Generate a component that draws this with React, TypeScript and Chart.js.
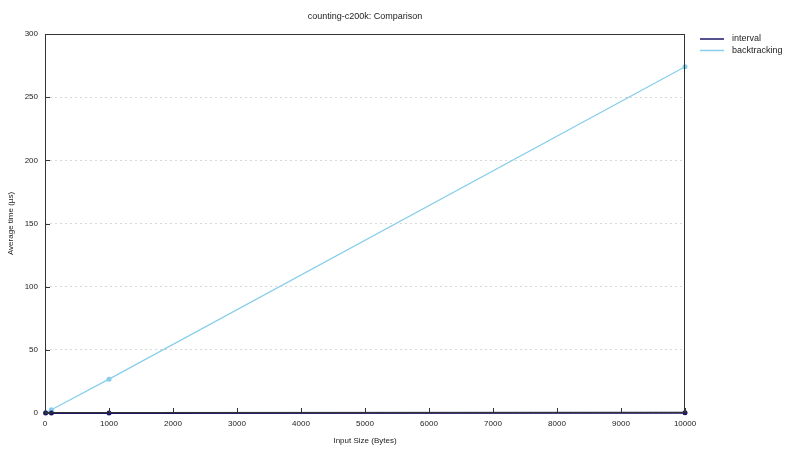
import React, { useEffect, useRef } from "react";
import { Chart, registerables } from "chart.js";
Chart.register(...registerables);

const TITLE = "counting-c200k: Comparison";
const inputSizes = [10, 100, 1000, 10000];
const intervalTimes = [0.02, 0.03, 0.08, 0.15];
const backtrackingTimes = [0.4, 2.6, 26.8, 274];
const seriesNames = ["interval", "backtracking"];
const seriesColors = ["#1c1767", "#87ceeb"];
const FONT = "'Liberation Sans', Arial, sans-serif";

const framePlugin = {
  id: "frame",
  afterDraw(chart: any) {
    const { ctx, chartArea: a, scales } = chart;
    ctx.save();
    ctx.strokeStyle = "#333";
    ctx.lineWidth = 1;
    ctx.strokeRect(a.left + 0.5, a.top + 0.5, a.right - a.left - 1, a.bottom - a.top - 1);
    ctx.beginPath();
    scales.x.ticks.forEach((t: any) => {
      const x = Math.round(scales.x.getPixelForValue(t.value)) + 0.5;
      ctx.moveTo(x, a.bottom);
      ctx.lineTo(x, a.bottom - 5);
    });
    scales.y.ticks.forEach((t: any) => {
      const y = Math.round(scales.y.getPixelForValue(t.value)) + 0.5;
      ctx.moveTo(a.left, y);
      ctx.lineTo(a.left + 5, y);
    });
    ctx.stroke();
    ctx.fillStyle = "#222";
    ctx.font = "9px " + FONT;
    ctx.textAlign = "center";
    ctx.textBaseline = "middle";
    ctx.fillText(TITLE, (a.left + a.right) / 2, 17);
    ctx.textAlign = "left";
    chart.data.datasets.forEach((d: any, i: number) => {
      const y = 39 + i * 11.5;
      ctx.strokeStyle = d.borderColor;
      ctx.lineWidth = 1.5;
      ctx.beginPath();
      ctx.moveTo(700, y);
      ctx.lineTo(724, y);
      ctx.stroke();
      ctx.fillStyle = "#222";
      ctx.fillText(d.label, 732, y);
    });
    ctx.restore();
  },
};

export default function App() {
  const ref = useRef<HTMLCanvasElement>(null);
  useEffect(() => {
    if (!ref.current) return;
    const chart = new Chart(ref.current, {
      type: "line",
      data: {
        datasets: [
          {
            label: seriesNames[0],
            data: inputSizes.map((x, i) => ({ x, y: intervalTimes[i] })),
            borderColor: seriesColors[0],
            backgroundColor: seriesColors[0],
            borderWidth: 2,
            pointRadius: 2.5,
            pointBorderWidth: 0,
            clip: false,
          },
          {
            label: seriesNames[1],
            data: inputSizes.map((x, i) => ({ x, y: backtrackingTimes[i] })),
            borderColor: seriesColors[1],
            backgroundColor: seriesColors[1],
            borderWidth: 1.2,
            pointRadius: 2.5,
            pointBorderWidth: 0,
            clip: false,
          },
        ],
      },
      plugins: [framePlugin],
      options: {
        animation: false,
        responsive: false,
        devicePixelRatio: 1,
        layout: { padding: { left: 0, top: 34, right: 115, bottom: 0 } },
        plugins: { legend: { display: false }, tooltip: { enabled: false } },
        scales: {
          x: {
            type: "linear",
            min: 0,
            max: 10000,
            border: { display: false },
            grid: { display: false, drawTicks: false },
            ticks: { stepSize: 1000, color: "#222", font: { family: FONT, size: 8 }, padding: 6, maxRotation: 0, callback: (v: any) => String(v) },
            title: { display: true, text: "Input Size (Bytes)", color: "#222", font: { family: FONT, size: 8 }, padding: { top: 8, bottom: 4 } },
            afterFit(s: any) { s.height = 37; },
          },
          y: {
            min: 0,
            max: 300,
            border: { display: false, dash: [2, 3] },
            grid: { color: "#d8d8d8", drawTicks: false, borderDash: [2, 3] },
            ticks: { stepSize: 50, color: "#222", font: { family: FONT, size: 8 }, padding: 7, callback: (v: any) => String(v) },
            title: { display: true, text: "Average time (µs)", color: "#222", font: { family: FONT, size: 8 }, padding: { top: 6, bottom: 2 } },
            afterFit(s: any) { s.width = 45; },
          },
        },
      },
    } as any);
    return () => chart.destroy();
  }, []);
  return (
    <div style={{ position: "fixed", left: 0, top: 0, width: 800, height: 450, background: "#fff" }}>
      <canvas ref={ref} width={800} height={450} />
    </div>
  );
}
